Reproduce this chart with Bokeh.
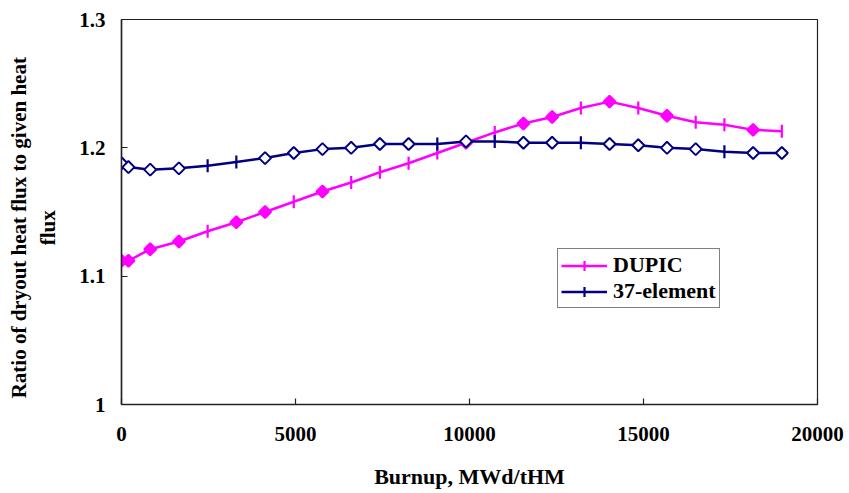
import math
from bokeh.plotting import figure
from bokeh.models import ColumnDataSource, Range1d, FixedTicker, Legend, LegendItem
from bokeh.embed import file_html
from bokeh.resources import INLINE

# ---- data ----
burnup = [0, 200, 825, 1650, 2475, 3300, 4125, 4950, 5775, 6600, 7425, 8250, 9075,
          9900, 10725, 11550, 12375, 13200, 14025, 14850, 15675, 16500, 17325, 18150, 18975]
dupic = [1.112, 1.112, 1.121, 1.127, 1.135, 1.142, 1.150, 1.158, 1.166, 1.173, 1.181, 1.188, 1.196,
         1.204, 1.212, 1.219, 1.224, 1.231, 1.236, 1.231, 1.225, 1.220, 1.218, 1.214, 1.213]
elem37 = [1.188, 1.185, 1.183, 1.184, 1.186, 1.189, 1.192, 1.196, 1.199, 1.200, 1.203, 1.203, 1.203,
          1.205, 1.205, 1.204, 1.204, 1.204, 1.203, 1.202, 1.200, 1.199, 1.197, 1.196, 1.196]
# marker kind per point: D = diamond, T = vertical tick
dupic_marker = list("DDDDTDDTDTTTTDTDDTDTDTTDT")
elem37_marker = list("DDDDTTDDDDDDTDTDDTDDDDTDD")

x_ticks = [0, 5000, 10000, 15000, 20000]
y_ticks = [1.0, 1.1, 1.2, 1.3]
y_tick_labels = ["1", "1.1", "1.2", "1.3"]

series_names = ["DUPIC", "37-element"]
colors = ["#FF00FF", "#000080"]

FONT = "Liberation Serif"
NBSP = "\u00a0"

p = figure(width=849, height=493, output_backend="svg", toolbar_location=None,
           x_range=Range1d(0, 20000), y_range=Range1d(1.0, 1.3),
           min_border_left=121, min_border_right=32, min_border_top=19, min_border_bottom=89)

p.grid.visible = False
p.outline_line_color = "#222222"
p.outline_line_width = 1.2

for ax in (p.xaxis[0], p.yaxis[0]):
    ax.axis_line_color = "#222222"
    ax.axis_line_width = 1.5
    ax.major_tick_in = 6
    ax.major_tick_out = 0
    ax.major_tick_line_color = "#222222"
    ax.major_tick_line_width = 1.2
    ax.minor_tick_line_color = None
    ax.major_label_text_font = FONT
    ax.major_label_text_font_style = "bold"
    ax.major_label_text_font_size = "21px"
    ax.major_label_text_color = "black"
    ax.axis_label_text_font = FONT
    ax.axis_label_text_font_style = "bold"
    ax.axis_label_text_color = "black"

p.xaxis.axis_label_text_font_size = "22px"
p.yaxis.axis_label_text_font_size = "21px"
p.xaxis.ticker = FixedTicker(ticks=x_ticks)
p.yaxis.ticker = FixedTicker(ticks=y_ticks)
p.yaxis.major_label_overrides = {t: l for t, l in zip(y_ticks, y_tick_labels)}
p.xaxis.major_label_standoff = 22
p.yaxis.major_label_standoff = 16
p.xaxis.axis_label = "Burnup, MWd/tHM"
pad = NBSP * 6
p.yaxis.axis_label = "Ratio of dryout heat flux to given heat" + pad + "\n" + "flux" + pad
p.xaxis.axis_label_standoff = 20
p.yaxis.axis_label_standoff = 16

legend_items = []
for name, ys, kinds, col, filled in [
        (series_names[0], dupic, dupic_marker, colors[0], True),
        (series_names[1], elem37, elem37_marker, colors[1], False)]:
    src = ColumnDataSource(dict(x=burnup, y=ys))
    line = p.line("x", "y", source=src, line_color=col, line_width=2.5)
    dx = [x for x, k in zip(burnup, kinds) if k == "D"]
    dy = [y for y, k in zip(ys, kinds) if k == "D"]
    tx = [x for x, k in zip(burnup, kinds) if k == "T"]
    ty = [y for y, k in zip(ys, kinds) if k == "T"]
    p.scatter(dx, dy, marker="square", angle=math.pi / 4, size=8.5,
              fill_color=col if filled else "white", line_color=col, line_width=2)
    p.scatter(tx, ty, marker="dash", angle=math.pi / 2, size=13,
              line_color=col, line_width=2.2)
    # legend-only glyph ("+" marker as in the original legend)
    key = p.scatter(tx, ty, marker="cross", size=13, line_color=col, line_width=2.2,
                    visible=False)
    legend_items.append(LegendItem(label=name, renderers=[line, key]))

legend = Legend(items=legend_items, location=(436, 96), orientation="vertical",
                border_line_color="black", border_line_width=1,
                background_fill_color="white", background_fill_alpha=1,
                label_text_font=FONT, label_text_font_style="bold",
                label_text_font_size="22px", label_text_color="black",
                glyph_width=46, glyph_height=25, label_height=25,
                label_standoff=6, spacing=0, padding=3, margin=0)
p.add_layout(legend, "center")

open("out.html", "w").write(file_html(p, INLINE))
